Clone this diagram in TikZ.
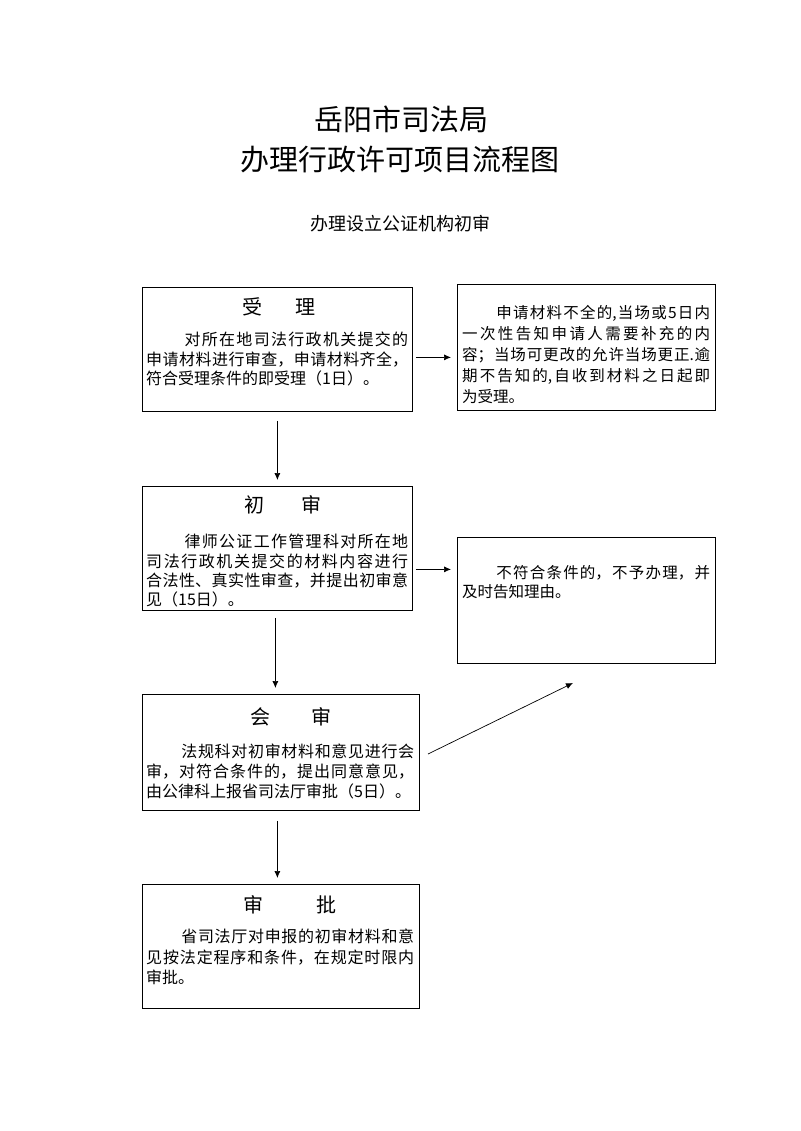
\documentclass[tikz,border=0pt]{standalone}
\usepackage{fontspec}
\newfontfamily\cjk{Noto Sans CJK SC}
\usetikzlibrary{arrows.meta,calc}
\XeTeXlinebreaklocale "zh"
\XeTeXlinebreakskip=0pt plus 1pt
\begin{document}
\begin{tikzpicture}[x=1pt,y=-1pt,
  box/.style={draw=black,line width=0.8pt,anchor=north west,inner sep=0pt},
  head/.style={inner sep=0pt,font=\cjk\fontsize{20}{24}\selectfont},
  body/.style={anchor=north west,inner sep=0pt,align=justify,font=\cjk\fontsize{16}{20}\selectfont},
  arr/.style={line width=0.7pt,-{Latex[length=7pt,width=6pt]}}]
\useasboundingbox (0,0) rectangle (800,1131);
% titles
\node[inner sep=0pt,font=\cjk\fontsize{29}{32}\selectfont] (ti1) at (401,119) {岳阳市司法局};
\node[inner sep=0pt,font=\cjk\fontsize{29}{32}\selectfont] (ti2) at (400,160) {办理行政许可项目流程图};
\node[inner sep=0pt,font=\cjk\fontsize{18}{22}\selectfont] (ti3) at (400,224) {办理设立公证机构初审};
% boxes
\node[box,minimum width=270pt,minimum height=124pt] (b1) at (142,287) {};
\node[box,minimum width=258pt,minimum height=126pt] (r1) at (457,284) {};
\node[box,minimum width=270pt,minimum height=124pt] (b2) at (142,486) {};
\node[box,minimum width=258pt,minimum height=126pt] (r2) at (457,537) {};
\node[box,minimum width=277pt,minimum height=116pt] (b3) at (142,694) {};
\node[box,minimum width=277pt,minimum height=124pt] (b4) at (142,884) {};
% headings
\node[head] (h1) at (279,307) {受\hspace{1.7em}理};
\node[head] (h2) at (283,505) {初\hspace{1.85em}审};
\node[head] (h3) at (291,717) {会\hspace{2.05em}审};
\node[head] (h4) at (290,905) {审\hspace{2.7em}批};
% body texts
\node[body,text width=262pt,font=\cjk\fontsize{16}{19.5}\selectfont] (t1) at (146,332)
  {\hspace*{2.4em}对所在地司法行政机关提交的\linebreak 申请材料进行审查，申请材料齐全，\linebreak 符合受理条件的即受理（1日）。};
\node[body,text width=248pt,font=\cjk\fontsize{15.5}{21}\selectfont] (tr1) at (462,305)
  {\hspace*{2.2em}申请材料不全的,当场或5日内\linebreak 一次性告知申请人需要补充的内\linebreak 容；当场可更改的允许当场更正.逾\linebreak 期不告知的,自收到材料之日起即\linebreak 为受理。};
\node[body,text width=262pt,font=\cjk\fontsize{16}{19.3}\selectfont] (t2) at (146,534)
  {\hspace*{2.4em}律师公证工作管理科对所在地\linebreak 司法行政机关提交的材料内容进行\linebreak 合法性、真实性审查，并提出初审意\linebreak 见（15日）。};
\node[body,text width=248pt,font=\cjk\fontsize{15.5}{19}\selectfont] (tr2) at (462,565)
  {\hspace*{2.2em}不符合条件的，不予办理，并\linebreak 及时告知理由。};
\node[body,text width=268pt,font=\cjk\fontsize{16}{20}\selectfont] (t3) at (146,744)
  {\hspace*{2.2em}法规科对初审材料和意见进行会\linebreak 审，对符合条件的，提出同意意见，\linebreak 由公律科上报省司法厅审批（5日）。};
\node[body,text width=268pt,font=\cjk\fontsize{16}{20.5}\selectfont] (t4) at (146,929)
  {\hspace*{2.2em}省司法厅对申报的初审材料和意\linebreak 见按法定程序和条件，在规定时限内\linebreak 审批。};
% connectors
\draw[arr,shorten <=9pt,shorten >=6pt] (b1.south) -- (b1.south |- b2.north);
\draw[arr,shorten <=7pt,shorten >=6pt] ([xshift=-2pt]b2.south) -- ([xshift=-2pt]b2.south |- b3.north);
\draw[arr,shorten <=10pt,shorten >=6pt] ([xshift=-3.5pt]b3.south) -- ([xshift=-3.5pt]b3.south |- b4.north);
\draw[arr,shorten <=3pt,shorten >=6pt] ([yshift=-8pt]b1.east) -- ([yshift=-8pt]b1.east -| r1.west);
\draw[arr,shorten <=3pt,shorten >=6pt] ([yshift=-21pt]b2.east) -- ([yshift=-21pt]b2.east -| r2.west);
\coordinate (a3s) at (428,754);
\coordinate (a3e) at (573,683);
\draw[arr] (a3s) -- (a3e);
\end{tikzpicture}
\end{document}
